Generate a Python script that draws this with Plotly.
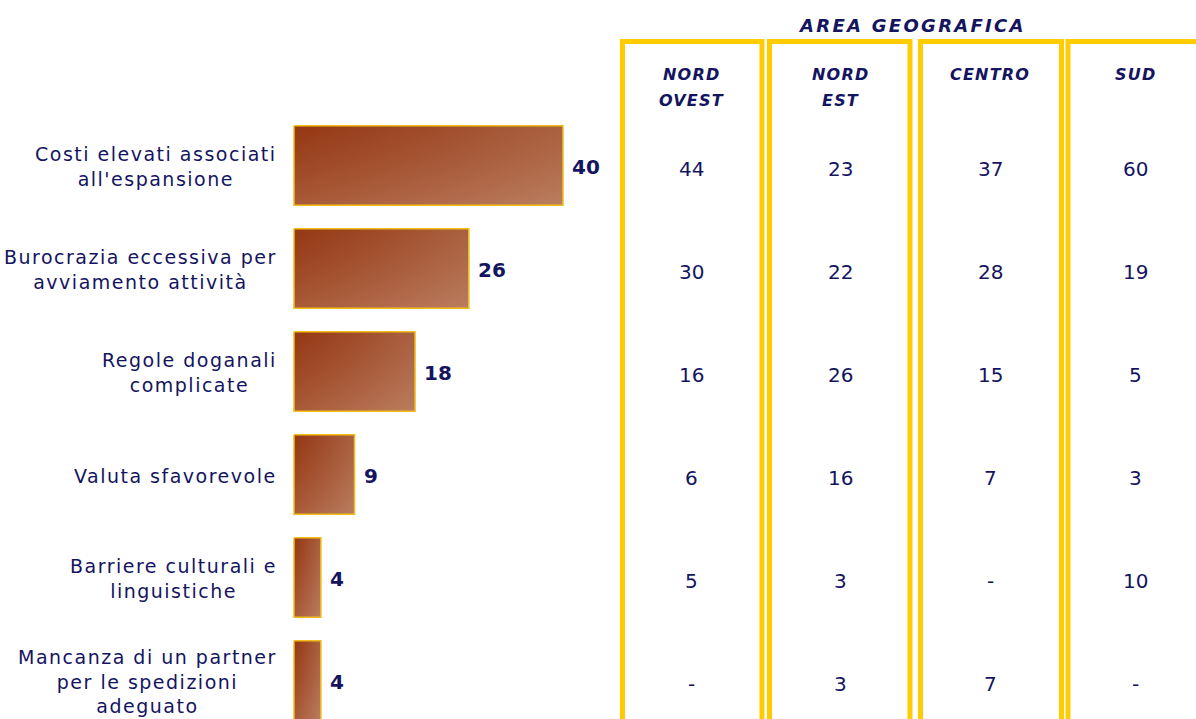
import plotly.graph_objects as go

# ---- data -------------------------------------------------------------
categories = [
    "Costi elevati associati<br>all'espansione",
    "Burocrazia eccessiva per<br>avviamento attività",
    "Regole doganali<br>complicate",
    "Valuta sfavorevole",
    "Barriere culturali e<br>linguistiche",
    "Mancanza di un partner<br>per le spedizioni<br>adeguato",
]
totale = [40, 26, 18, 9, 4, 4]

area_title = "AREA GEOGRAFICA"
areas = ["NORD<br>OVEST", "NORD<br>EST", "CENTRO", "SUD"]
nord_ovest = [44, 30, 16, 6, 5, None]
nord_est = [23, 22, 26, 16, 3, 3]
centro = [37, 28, 15, 7, None, 7]
sud = [60, 19, 5, 3, 10, None]
area_values = [nord_ovest, nord_est, centro, sud]

# ---- styling ------------------------------------------------------------
W, H = 1196, 719
NAVY = "#14145f"
GOLD = "#ffcc00"
FONT = "DejaVu Sans"
BAR_HALF = 0.385


def px(x):
    return x / W


def py(y):
    return 1 - y / H


def spaced(text, sp):
    return "<br>".join(
        f'<span style="letter-spacing:{sp}px">{t}</span>' for t in text.split("<br>")
    )


fig = go.Figure()

# bars as gradient-filled rectangles on the data axes:
# a left-to-right gradient plus a translucent top-to-bottom one,
# giving a diagonal dark-to-light shading
for i, v in enumerate(totale):
    xs = [0, v, v, 0, 0]
    ys = [i - BAR_HALF, i - BAR_HALF, i + BAR_HALF, i + BAR_HALF, i - BAR_HALF]
    fig.add_trace(go.Scatter(
        x=xs, y=ys, mode="lines", fill="toself",
        fillgradient=dict(
            type="horizontal",
            colorscale=[[0, "#983a14"], [0.55, "#a85b3b"], [1, "#b77a5a"]],
        ),
        line=dict(width=0), hoverinfo="skip", showlegend=False,
    ))
    fig.add_trace(go.Scatter(
        x=xs, y=ys, mode="lines", fill="toself",
        fillgradient=dict(
            type="vertical",
            colorscale=[[0, "rgba(190,130,100,0.45)"], [1, "rgba(145,50,15,0.35)"]],
        ),
        line=dict(color="#f2bd1a", width=1.5), hoverinfo="skip", showlegend=False,
    ))

annotations = []

# value labels next to bars
for i, v in enumerate(totale):
    annotations.append(dict(
        x=v, y=i, xref="x", yref="y", text=f"<b>{v}</b>",
        xanchor="left", yanchor="middle", xshift=7, yshift=-1, showarrow=False,
        font=dict(family=FONT, size=20, color=NAVY),
    ))

# category labels
for i, c in enumerate(categories):
    annotations.append(dict(
        x=px(279), y=i, xref="paper", yref="y", text=spaced(c, 1.5),
        xanchor="right", yanchor="middle", align="center", showarrow=False,
        yshift=-1,
        font=dict(family=FONT, size=19, color=NAVY),
    ))

# table header
annotations.append(dict(
    x=px(912), y=py(26), xref="paper", yref="paper",
    text=f'<b><i>{spaced(area_title, 2.3)}</i></b>',
    xanchor="center", yanchor="middle", showarrow=False,
    font=dict(family=FONT, size=18, color=NAVY),
))

col_centers = [691, 840, 990, 1135]
box_edges = [(622.5, 762), (769.5, 910), (920.5, 1061.5), (1068, 1212)]
shapes = []
for (x0, x1) in box_edges:
    shapes.append(dict(
        type="rect", xref="paper", yref="paper",
        x0=px(x0), x1=px(x1), y0=py(41.5), y1=-0.05,
        line=dict(color=GOLD, width=5), fillcolor="rgba(0,0,0,0)", layer="below",
    ))

for cx, name, vals in zip(col_centers, areas, area_values):
    for k, line in enumerate(name.split("<br>")):
        annotations.append(dict(
            x=px(cx), y=py(74 + 26 * k), xref="paper", yref="paper",
            text=f'<b><i>{spaced(line, 1.2)}</i></b>',
            xanchor="center", yanchor="middle", showarrow=False,
            font=dict(family=FONT, size=16, color=NAVY),
        ))
    for i, v in enumerate(vals):
        annotations.append(dict(
            x=px(cx), y=i, xref="paper", yref="y",
            text="-" if v is None else str(v),
            xanchor="center", yanchor="middle", showarrow=False, yshift=-3,
            font=dict(family=FONT, size=20, color=NAVY),
        ))

fig.update_layout(
    width=W, height=H,
    margin=dict(l=0, r=0, t=0, b=0),
    paper_bgcolor="white", plot_bgcolor="white",
    xaxis=dict(range=[-294 / 6.725, (W - 294) / 6.725], visible=False, fixedrange=True),
    yaxis=dict(range=[(H - 165.5) / 103, -165.5 / 103], visible=False, fixedrange=True),
    annotations=annotations,
    shapes=shapes,
    showlegend=False,
)

fig.write_html("out.html")
